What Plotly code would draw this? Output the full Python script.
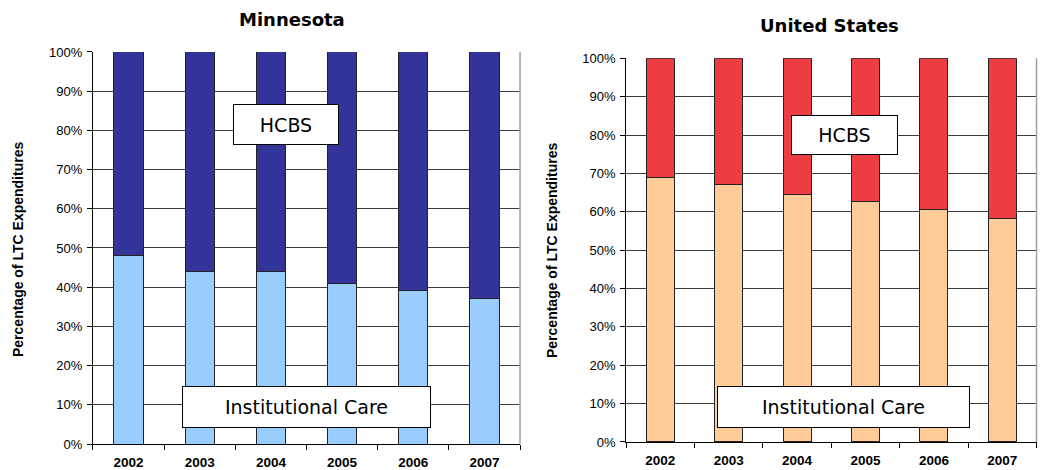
import plotly.graph_objects as go

years = ["2002", "2003", "2004", "2005", "2006", "2007"]

# Share of long-term care spending (percent)
mn_institutional = [48.0, 44.1, 44.0, 40.9, 39.2, 37.0]
mn_hcbs = [round(100 - v, 1) for v in mn_institutional]
us_institutional = [69.0, 67.0, 64.6, 62.8, 60.6, 58.3]
us_hcbs = [round(100 - v, 1) for v in us_institutional]

y_ticks = [0, 10, 20, 30, 40, 50, 60, 70, 80, 90, 100]
y_tick_text = [f"{t}%" for t in y_ticks]

MN_INST, MN_HCBS = "#99CCFF", "#333399"
US_INST, US_HCBS = "#FFCC99", "#EE3C43"
OUTLINE = "#222222"

fig = go.Figure()


def add_stack(xa, ya, inst, hcbs, c_inst, c_hcbs):
    fig.add_trace(go.Bar(x=years, y=inst, xaxis=xa, yaxis=ya, name="Institutional Care",
                         marker=dict(color=c_inst, line=dict(color=OUTLINE, width=1)),
                         showlegend=False, hoverinfo="y"))
    fig.add_trace(go.Bar(x=years, y=hcbs, xaxis=xa, yaxis=ya, name="HCBS",
                         marker=dict(color=c_hcbs, line=dict(color=OUTLINE, width=1)),
                         showlegend=False, hoverinfo="y"))


add_stack("x", "y", mn_institutional, mn_hcbs, MN_INST, MN_HCBS)
add_stack("x2", "y2", us_institutional, us_hcbs, US_INST, US_HCBS)

tick_font = dict(family="Liberation Sans, Arial, sans-serif", size=13, color="#000000")
xaxis_common = dict(type="category", tickson="boundaries", ticks="outside", ticklen=5,
                    tickcolor="#000000", showline=True, linecolor="#000000", linewidth=1,
                    showgrid=False, zeroline=False, automargin=False, ticklabelstandoff=6,
                    tickfont=dict(family="Liberation Sans, Arial, sans-serif", size=13.5,
                                  color="#000000", weight="bold"),
                    fixedrange=True)
yaxis_common = dict(range=[0, 100], tickvals=y_ticks, ticktext=y_tick_text,
                    ticks="outside", ticklen=5, tickcolor="#000000",
                    showline=True, linecolor="#000000", linewidth=1,
                    showgrid=True, gridcolor="#3c3c3c", gridwidth=1, zeroline=False,
                    automargin=False, ticklabelstandoff=2, tickfont=tick_font, fixedrange=True)

fig.update_layout(
    width=1047, height=470,
    margin=dict(l=0, r=0, t=0, b=0, autoexpand=False),
    paper_bgcolor="#FFFFFF", plot_bgcolor="#FFFFFF",
    barmode="stack", bargap=0.59,
    xaxis=dict(domain=[0.0888, 0.4967], anchor="y", **xaxis_common),
    yaxis=dict(domain=[0.0553, 0.8894], anchor="x", **yaxis_common),
    xaxis2=dict(domain=[0.598, 0.990], anchor="y2", **xaxis_common),
    yaxis2=dict(domain=[0.0596, 0.876], anchor="x2", **yaxis_common),
)

# right-hand frame edge of each plot area
for xr, yr in (("x domain", "y domain"), ("x2 domain", "y2 domain")):
    fig.add_shape(type="line", xref=xr, yref=yr, x0=1, x1=1, y0=0, y1=1,
                  line=dict(color="#A0A0A0", width=1.5))

title_font = dict(family="DejaVu Sans, Verdana, sans-serif", size=18, color="#000000", weight="bold")
label_font = dict(family="DejaVu Sans, Verdana, sans-serif", size=19, color="#000000")
axis_title_font = dict(family="Liberation Sans, Arial, sans-serif", size=14, color="#000000", weight="bold")

annotations = [
    dict(text="Minnesota", x=292, y=20, font=title_font),
    dict(text="United States", x=829, y=25, font=title_font),
    dict(text="Percentage of LTC Expenditures", x=18, y=250, textangle=-90, font=axis_title_font),
    dict(text="Percentage of LTC Expenditures", x=552, y=250, textangle=-90, font=axis_title_font),
]
for a in annotations:
    fig.add_annotation(xref="paper", yref="paper", x=a["x"] / 1047, y=1 - a["y"] / 470,
                       xanchor="center", yanchor="middle", text=a["text"], textangle=a.get("textangle", 0),
                       showarrow=False, font=a["font"])

# boxed series labels
boxes = [
    ("HCBS", 286, 124.5, 104, 39),
    ("Institutional Care", 306.5, 407, 247, 40),
    ("HCBS", 844, 135, 105, 38),
    ("Institutional Care", 843.5, 407, 251, 40),
]
for text, cx, cy, w, h in boxes:
    fig.add_annotation(xref="paper", yref="paper", x=cx / 1047, y=1 - cy / 470,
                       xanchor="center", yanchor="middle", text=text, showarrow=False,
                       font=label_font, bgcolor="#FFFFFF", bordercolor="#000000", borderwidth=1,
                       width=w - 2, height=h - 2, align="center", valign="middle")

fig.write_html("out.html")
